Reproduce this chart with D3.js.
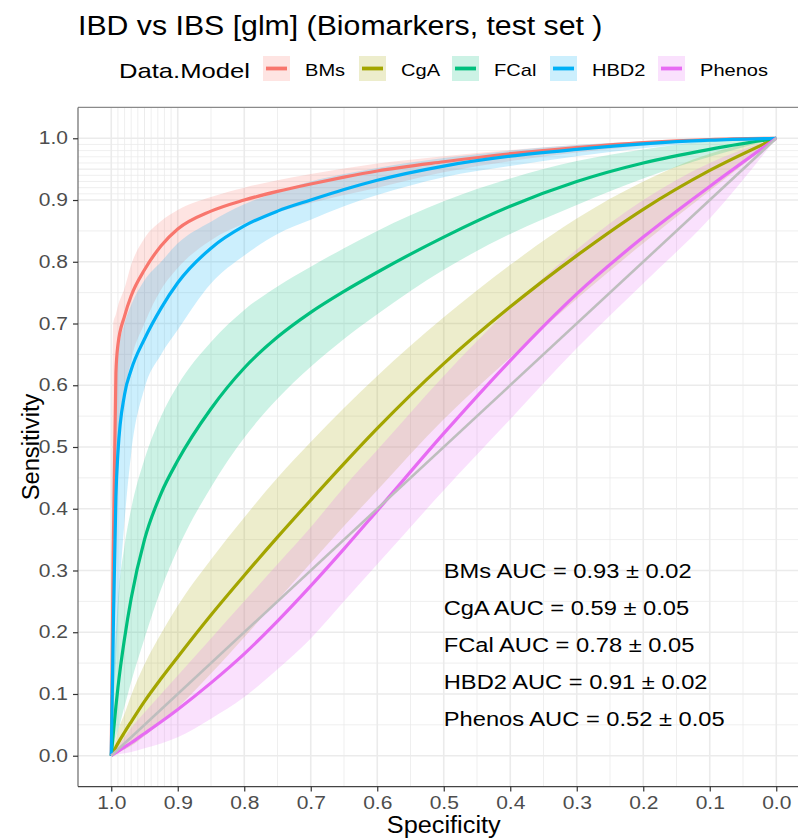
<!DOCTYPE html>
<html>
<head>
<meta charset="utf-8">
<script src="https://cdn.jsdelivr.net/npm/d3@7/dist/d3.min.js"></script>
<style>
  html, body { margin: 0; padding: 0; background: #fff; }
  svg { display: block; font-family: "Liberation Sans", Arial, sans-serif; }
</style>
</head>
<body>
<svg id="chart" width="798" height="839"></svg>
<script>
// ---------------- data ----------------
const models = ["BMs", "CgA", "FCal", "HBD2", "Phenos"];
const colors = ["#F8766D", "#A3A500", "#00BF7D", "#00B0F6", "#E76BF3"];
const specificity = [1, 0.997, 0.993, 0.99, 0.98, 0.97, 0.95, 0.925, 0.9, 0.85, 0.8, 0.75, 0.7, 0.65, 0.6, 0.5, 0.4, 0.3, 0.2, 0.1, 0];

const bmsMean  = [0, 0.33, 0.62, 0.665, 0.712, 0.745, 0.787, 0.826, 0.853, 0.882, 0.9, 0.914, 0.926, 0.937, 0.947, 0.962, 0.975, 0.985, 0.993, 0.998, 1];
const bmsLow   = [0, 0.10, 0.30, 0.45, 0.58, 0.64, 0.70, 0.755, 0.79, 0.835, 0.862, 0.88, 0.895, 0.908, 0.92, 0.945, 0.963, 0.977, 0.988, 0.996, 1];
const bmsHigh  = [0, 0.70, 0.715, 0.728, 0.757, 0.795, 0.838, 0.866, 0.884, 0.905, 0.92, 0.932, 0.942, 0.951, 0.959, 0.971, 0.981, 0.989, 0.995, 0.999, 1];

const cgaMean  = [0, 0.006, 0.014, 0.02, 0.038, 0.055, 0.088, 0.125, 0.16, 0.228, 0.292, 0.354, 0.414, 0.473, 0.53, 0.635, 0.727, 0.81, 0.885, 0.948, 1];
const cgaLow   = [0, 0.001, 0.003, 0.005, 0.01, 0.016, 0.032, 0.054, 0.078, 0.133, 0.192, 0.252, 0.312, 0.372, 0.43, 0.545, 0.645, 0.74, 0.83, 0.915, 1];
const cgaHigh  = [0, 0.012, 0.028, 0.04, 0.068, 0.098, 0.148, 0.198, 0.243, 0.318, 0.386, 0.45, 0.508, 0.563, 0.615, 0.71, 0.795, 0.87, 0.93, 0.975, 1];

const fcalMean = [0, 0.035, 0.08, 0.11, 0.19, 0.255, 0.35, 0.425, 0.478, 0.562, 0.628, 0.678, 0.718, 0.752, 0.783, 0.84, 0.89, 0.93, 0.96, 0.982, 1];
const fcalLow  = [0, 0.01, 0.03, 0.04, 0.08, 0.12, 0.19, 0.27, 0.335, 0.435, 0.515, 0.578, 0.63, 0.675, 0.715, 0.787, 0.845, 0.892, 0.935, 0.97, 1];
const fcalHigh = [0, 0.12, 0.20, 0.25, 0.34, 0.40, 0.48, 0.55, 0.60, 0.67, 0.722, 0.76, 0.792, 0.822, 0.85, 0.898, 0.935, 0.963, 0.982, 0.995, 1];

const hbd2Mean = [0, 0.20, 0.42, 0.49, 0.585, 0.625, 0.675, 0.725, 0.766, 0.822, 0.858, 0.882, 0.9, 0.917, 0.932, 0.955, 0.971, 0.982, 0.991, 0.997, 1];
const hbd2Low  = [0, 0.08, 0.15, 0.22, 0.38, 0.49, 0.595, 0.65, 0.69, 0.765, 0.81, 0.845, 0.868, 0.89, 0.908, 0.937, 0.955, 0.971, 0.984, 0.994, 1];
const hbd2High = [0, 0.45, 0.60, 0.65, 0.70, 0.73, 0.77, 0.80, 0.83, 0.865, 0.893, 0.913, 0.93, 0.942, 0.952, 0.968, 0.98, 0.989, 0.995, 0.999, 1];

const phenosMean = [0, 0.002, 0.005, 0.007, 0.014, 0.021, 0.036, 0.055, 0.075, 0.118, 0.165, 0.218, 0.275, 0.335, 0.397, 0.522, 0.64, 0.748, 0.84, 0.922, 1];
const phenosLow  = [0, 0, 0.001, 0.002, 0.004, 0.006, 0.012, 0.02, 0.03, 0.06, 0.095, 0.14, 0.19, 0.25, 0.31, 0.43, 0.545, 0.66, 0.765, 0.87, 1];
const phenosHigh = [0, 0.004, 0.01, 0.015, 0.03, 0.045, 0.07, 0.10, 0.13, 0.19, 0.25, 0.31, 0.37, 0.435, 0.495, 0.615, 0.725, 0.82, 0.90, 0.96, 1];

const aucMean = [0.93, 0.59, 0.78, 0.91, 0.52];
const aucSd   = [0.02, 0.05, 0.05, 0.02, 0.05];

const tickLabels = [1.0, 0.9, 0.8, 0.7, 0.6, 0.5, 0.4, 0.3, 0.2, 0.1, 0.0];
const minorTicks = [0.95, 0.85, 0.75, 0.65, 0.55, 0.45, 0.35, 0.25, 0.15, 0.05];
const fineTicks  = [0.99, 0.98, 0.97, 0.96, 0.95, 0.94, 0.93, 0.92, 0.91];

const meanArr = [bmsMean, cgaMean, fcalMean, hbd2Mean, phenosMean];
const lowArr  = [bmsLow, cgaLow, fcalLow, hbd2Low, phenosLow];
const highArr = [bmsHigh, cgaHigh, fcalHigh, hbd2High, phenosHigh];

// ---------------- layout ----------------
const svg = d3.select("#chart");
const panel = { left: 78, right: 809.5, top: 107.4, bottom: 786.6 };

const x = d3.scaleLinear().domain([1.05, -0.05]).range([panel.left, panel.right]);
const y = d3.scaleLinear().domain([-0.05, 1.05]).range([panel.bottom, panel.top]);

// widen text horizontally (reference glyphs are wider than Arial metrics)
function stretch(sel, k) {
  sel.each(function () {
    const w = this.getComputedTextLength();
    d3.select(this).attr("textLength", w * k).attr("lengthAdjust", "spacingAndGlyphs");
  });
  return sel;
}

const series = models.map((m, i) => ({
  name: m, color: colors[i],
  pts: specificity.map((s, j) => ({ s, m: meanArr[i][j], lo: lowArr[i][j], hi: highArr[i][j] }))
}));

svg.append("clipPath").attr("id", "pclip").append("rect")
  .attr("x", panel.left).attr("y", panel.top)
  .attr("width", panel.right - panel.left).attr("height", panel.bottom - panel.top);

const g = svg.append("g").attr("clip-path", "url(#pclip)");

// grid
const gridColor = "#EBEBEB";
function gridLines(vals, w) {
  vals.forEach(t => {
    g.append("line").attr("x1", x(t)).attr("x2", x(t)).attr("y1", panel.top).attr("y2", panel.bottom)
      .attr("stroke", gridColor).attr("stroke-width", w);
    g.append("line").attr("y1", y(t)).attr("y2", y(t)).attr("x1", panel.left).attr("x2", panel.right)
      .attr("stroke", gridColor).attr("stroke-width", w);
  });
}
gridLines(minorTicks, 0.8);
gridLines(fineTicks, 0.8);
gridLines(tickLabels, 1.6);

// ribbons
const area = d3.area().x(d => x(d.s)).y0(d => y(d.lo)).y1(d => y(d.hi)).curve(d3.curveMonotoneX);
const line = d3.line().x(d => x(d.s)).y(d => y(d.m)).curve(d3.curveMonotoneX);

series.forEach(sr => {
  g.append("path").datum(sr.pts).attr("d", area).attr("fill", sr.color).attr("fill-opacity", 0.2);
});
series.forEach(sr => {
  g.append("path").datum(sr.pts).attr("d", line).attr("fill", "none")
    .attr("stroke", sr.color).attr("stroke-width", 3.2).attr("stroke-linejoin", "round");
});
// diagonal
g.append("line").attr("x1", x(1)).attr("y1", y(0)).attr("x2", x(0)).attr("y2", y(1))
  .attr("stroke", "#BEBEBE").attr("stroke-width", 2.6);

// AUC text
models.forEach((m, i) => {
  const t = svg.append("text").attr("x", x(0.5)).attr("y", y(0.30 - 0.06 * i)).attr("dy", "0.36em")
    .attr("font-size", 20.5).attr("fill", "#000")
    .text(`${m} AUC = ${aucMean[i].toFixed(2)} ± ${aucSd[i].toFixed(2)}`);
  stretch(t, 1.155);
});

// panel border + axes
svg.append("line").attr("x1", panel.left).attr("x2", 798).attr("y1", panel.top).attr("y2", panel.top)
  .attr("stroke", "#8a8a8a").attr("stroke-width", 1.2);
svg.append("line").attr("x1", panel.left).attr("x2", panel.left).attr("y1", panel.top).attr("y2", panel.bottom)
  .attr("stroke", "#6a6a6a").attr("stroke-width", 1.2);
svg.append("line").attr("x1", panel.left).attr("x2", 798).attr("y1", panel.bottom).attr("y2", panel.bottom)
  .attr("stroke", "#444").attr("stroke-width", 1.3);

const fmt = d3.format(".1f");
const xAxis = svg.append("g").attr("transform", `translate(0,${panel.bottom})`)
  .call(d3.axisBottom(x).tickValues(tickLabels).tickFormat(fmt).tickSize(5).tickPadding(5));
const yAxis = svg.append("g").attr("transform", `translate(${panel.left},0)`)
  .call(d3.axisLeft(y).tickValues(tickLabels).tickFormat(fmt).tickSize(5).tickPadding(5));
[xAxis, yAxis].forEach(a => {
  a.select(".domain").remove();
  a.selectAll(".tick line").attr("stroke", "#333").attr("stroke-width", 1.2);
  const tt = a.selectAll(".tick text").attr("fill", "#4D4D4D").attr("font-size", 17.5)
    .attr("font-family", "Liberation Sans, Arial, sans-serif");
  stretch(tt, 1.2);
});

// axis titles
stretch(svg.append("text").attr("x", x(0.5)).attr("y", 833).attr("text-anchor", "middle")
  .attr("font-size", 23).attr("fill", "#000").text("Specificity"), 1.1);
stretch(svg.append("text").attr("transform", `translate(39,${y(0.5)}) rotate(-90)`).attr("text-anchor", "middle")
  .attr("font-size", 23).attr("fill", "#000").text("Sensitivity"), 1.03);

// title
stretch(svg.append("text").attr("x", 78).attr("y", 35).attr("font-size", 27.5).attr("fill", "#000")
  .text("IBD vs IBS [glm] (Biomarkers, test set )"), 1.1);

// legend
stretch(svg.append("text").attr("x", 119).attr("y", 78).attr("font-size", 21).attr("fill", "#000").text("Data.Model"), 1.22);
const keyX = [263, 359, 452, 550, 658];
models.forEach((m, i) => {
  const kg = svg.append("g").attr("transform", `translate(${keyX[i]},56)`);
  kg.append("rect").attr("width", 27).attr("height", 25).attr("fill", colors[i]).attr("fill-opacity", 0.2);
  kg.append("line").attr("x1", 3).attr("x2", 24).attr("y1", 12.5).attr("y2", 12.5)
    .attr("stroke", colors[i]).attr("stroke-width", 3.8);
  stretch(svg.append("text").attr("x", keyX[i] + 42).attr("y", 75.5).attr("font-size", 17).attr("fill", "#000").text(m), 1.18);
});
</script>
</body>
</html>
